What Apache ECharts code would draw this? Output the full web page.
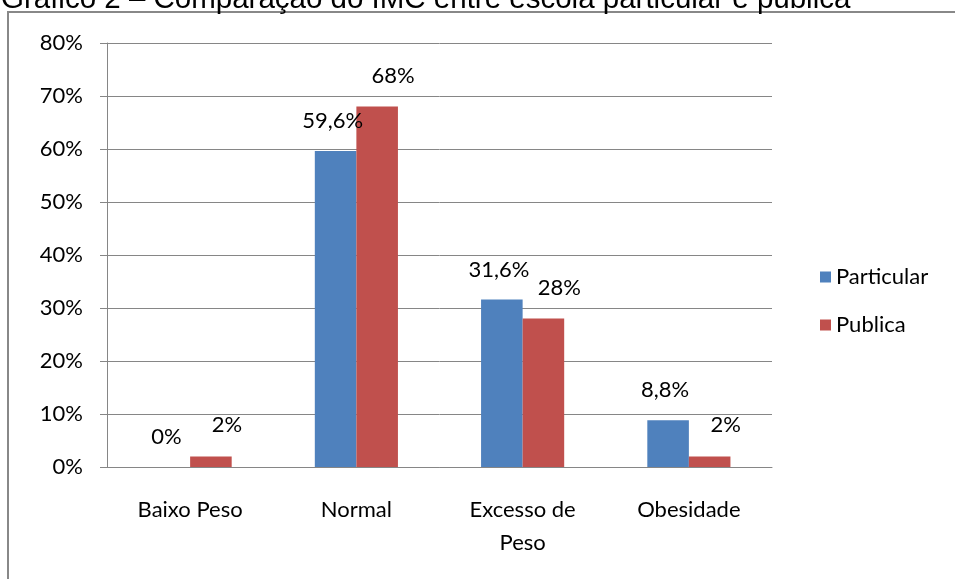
<!DOCTYPE html>
<html lang="pt">
<head>
    <meta charset="UTF-8">
    <title>IMC</title>
    <style>
        html, body { margin: 0; padding: 0; background: #fff; }
        #main { width: 955px; height: 579px; }
    </style>
</head>
<body>
    <div id="main"></div>
    <script src="https://cdn.jsdelivr.net/npm/echarts@6/dist/echarts.min.js"></script>
    <script>
        // dados do gráfico
        const categorias = ['Baixo Peso', 'Normal', 'Excesso de\nPeso', 'Obesidade'];
        const particular = [0, 59.6, 31.6, 8.8];
        const publica = [2, 68, 28, 2];
        const yTicks = [0, 10, 20, 30, 40, 50, 60, 70, 80];

        const fonte = 'Lato';
        const tam = 22;
        const cinza = '#868686';

        function fmt(v) {
            return String(v).replace('.', ',') + '%';
        }

        const myChart = echarts.init(document.getElementById('main'));

        const option = {
            animation: false,
            textStyle: { fontFamily: fonte },
            title: {
                text: 'Gráfico 2 – Comparação do IMC entre escola particular e pública',
                left: -4,
                top: -20,
                textStyle: {
                    fontFamily: 'Liberation Sans',
                    fontWeight: 'normal',
                    fontSize: 29.5,
                    color: '#000'
                }
            },
            graphic: [
                {
                    type: 'rect',
                    shape: { x: 8, y: 12, width: 1000, height: 600 },
                    style: { fill: 'none', stroke: '#888', lineWidth: 2 },
                    silent: true
                }
            ],
            legend: {
                orient: 'vertical',
                left: 815,
                top: 261,
                itemWidth: 11,
                itemHeight: 11,
                itemGap: 26,
                icon: 'rect',
                textStyle: { fontFamily: fonte, fontSize: tam, color: '#000' },
                data: ['Particular', 'Publica']
            },
            grid: {
                left: 107,
                right: 955 - 772,
                top: 43,
                bottom: 579 - 467
            },
            xAxis: {
                type: 'category',
                data: categorias,
                axisLine: { lineStyle: { color: cinza } },
                axisTick: { length: 10, lineStyle: { color: cinza } },
                axisLabel: {
                    fontFamily: fonte,
                    fontSize: tam,
                    color: '#000',
                    margin: 26,
                    lineHeight: 33
                }
            },
            yAxis: {
                type: 'value',
                min: yTicks[0],
                max: yTicks[yTicks.length - 1],
                interval: 10,
                axisLine: { show: true, lineStyle: { color: cinza } },
                axisTick: { show: true, length: 7, lineStyle: { color: cinza } },
                splitLine: { lineStyle: { color: cinza } },
                axisLabel: {
                    fontFamily: fonte,
                    fontSize: tam,
                    color: '#000',
                    margin: 24,
                    formatter: v => v + '%'
                }
            },
            series: [
                {
                    name: 'Particular',
                    type: 'bar',
                    data: particular,
                    barCategoryGap: '50%',
                    barGap: '0%',
                    itemStyle: { color: '#4F81BD' },
                    label: {
                        show: true,
                        position: 'top',
                        offset: [-3, -14],
                        fontFamily: fonte,
                        fontSize: tam,
                        color: '#000',
                        formatter: p => fmt(p.value)
                    }
                },
                {
                    name: 'Publica',
                    type: 'bar',
                    data: publica,
                    barCategoryGap: '50%',
                    barGap: '0%',
                    itemStyle: { color: '#C0504D' },
                    label: {
                        show: true,
                        position: 'top',
                        offset: [16, -15],
                        fontFamily: fonte,
                        fontSize: tam,
                        color: '#000',
                        formatter: p => fmt(p.value)
                    }
                }
            ]
        };

        myChart.setOption(option);
    </script>
</body>
</html>
